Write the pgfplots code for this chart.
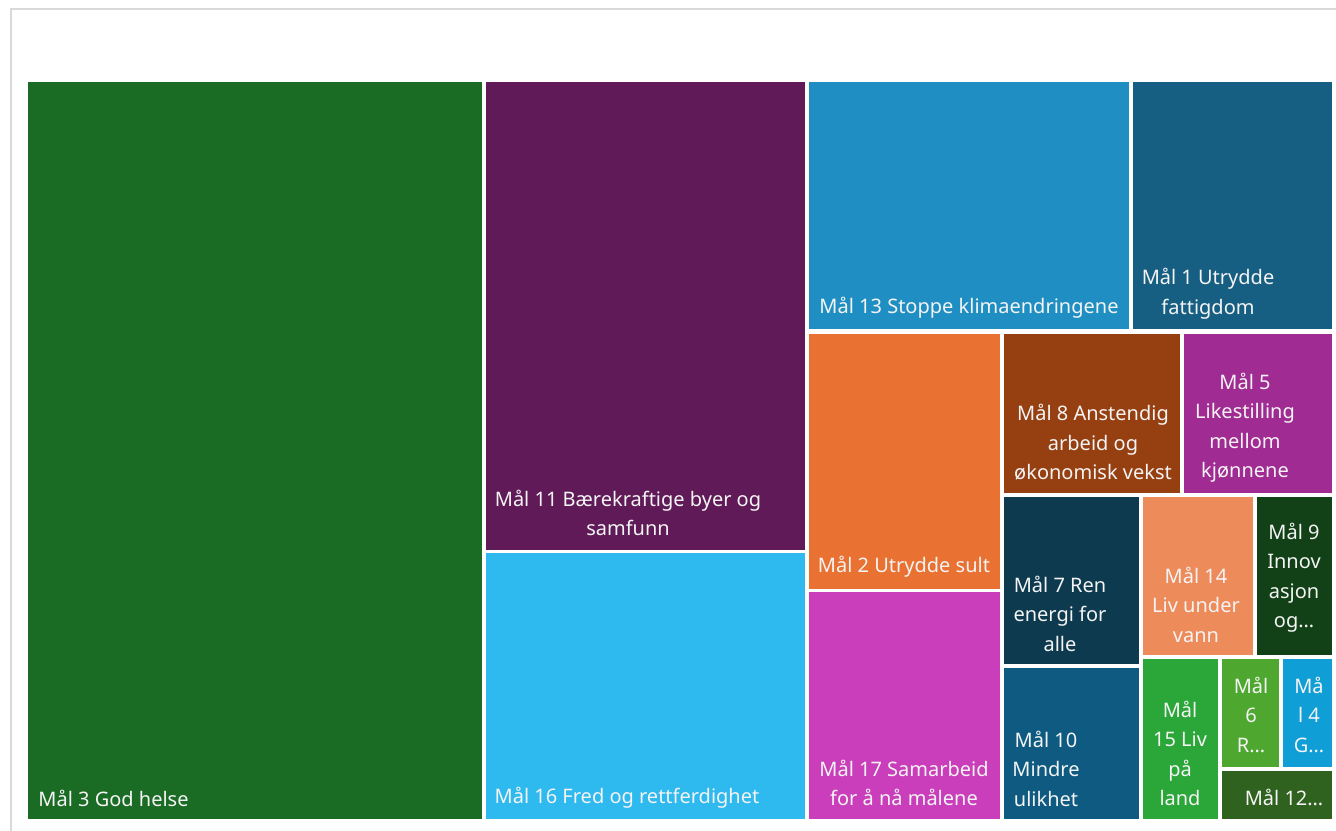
\documentclass[border=0pt]{standalone}
\usepackage{pgfplots}
\pgfplotsset{compat=1.18}
\usepackage{fontspec}
\setmainfont{Noto Sans}

% Office-theme colours
\definecolor{m3}{HTML}{1A6B24}
\definecolor{m11}{HTML}{5F1A57}
\definecolor{m16}{HTML}{2EB9EF}
\definecolor{m13}{HTML}{1F8FC3}
\definecolor{m1}{HTML}{165F82}
\definecolor{m2}{HTML}{E97132}
\definecolor{m17}{HTML}{CA3EBB}
\definecolor{m8}{HTML}{963F11}
\definecolor{m5}{HTML}{A02B93}
\definecolor{m7}{HTML}{0D3A4E}
\definecolor{m10}{HTML}{0E5A80}
\definecolor{m14}{HTML}{EE8B5B}
\definecolor{m9}{HTML}{134117}
\definecolor{m15}{HTML}{2BA639}
\definecolor{m6}{HTML}{4EA72E}
\definecolor{m4}{HTML}{0F9ED5}
\definecolor{m12}{HTML}{30621F}
\definecolor{lblcol}{HTML}{F4F4F4}
\definecolor{frame}{HTML}{D9D9D9}

\tikzset{lbl/.style={font=\fontsize{10}{14.75}\selectfont, text=lblcol, align=center, inner sep=0pt}}

\newcommand{\tile}[5]{%
  \addplot[fill=#1, draw=none] coordinates {(#2,#3)(#4,#3)(#4,#5)(#2,#5)} -- cycle;}

\begin{document}
\begin{tikzpicture}
\useasboundingbox (0,0) rectangle (668pt,415pt);
\begin{axis}[
    scale only axis, width=668pt, height=415pt,
    xmin=0, xmax=1336, ymin=0, ymax=830, y dir=reverse,
    hide axis, clip=false,
]
% chart frame
\addplot[draw=frame, line width=0.8pt] coordinates {(11,835)(11,9)(1345,9)};
% tiles: colour, x0, y0, x1, y1 (pixels)
\tile{m3}{28}{82}{482}{819}
\tile{m11}{486}{82}{805}{550}
\tile{m16}{486}{553}{805}{819}
\tile{m13}{809}{82}{1129}{329}
\tile{m1}{1133}{82}{1332}{329}
\tile{m2}{809}{334}{1000}{589}
\tile{m17}{809}{592}{1000}{819}
\tile{m8}{1004}{334}{1180}{493}
\tile{m5}{1184}{334}{1332}{493}
\tile{m7}{1004}{497}{1139}{664}
\tile{m10}{1004}{668}{1139}{819}
\tile{m14}{1143}{497}{1253}{655}
\tile{m9}{1257}{497}{1332}{655}
\tile{m15}{1143}{659}{1218}{819}
\tile{m6}{1222}{659}{1279}{767}
\tile{m4}{1283}{659}{1332}{767}
\tile{m12}{1222}{771}{1332}{819}

\node[lbl] at (axis cs:113.5,798) {Mål 3 God helse};
\node[lbl] at (axis cs:628,513) {Mål 11 Bærekraftige byer og\\samfunn};
\node[lbl] at (axis cs:627,798) {Mål 16 Fred og rettferdighet};
\node[lbl] at (axis cs:969,308) {Mål 13 Stoppe klimaendringene};
\node[lbl] at (axis cs:1208,293.5) {Mål 1 Utrydde\\fattigdom};
\node[lbl] at (axis cs:904,567) {Mål 2 Utrydde sult};
\node[lbl] at (axis cs:904,783) {Mål 17 Samarbeid\\for å nå målene};
\node[lbl] at (axis cs:1093,442.5) {Mål 8 Anstendig\\arbeid og\\økonomisk vekst};
\node[lbl] at (axis cs:1245,427.5) {Mål 5\\Likestilling\\mellom\\kjønnene};
\node[lbl] at (axis cs:1060,613.5) {Mål 7 Ren\\energi for\\alle};
\node[lbl] at (axis cs:1046,768.5) {Mål 10\\Mindre\\ulikhet};
\node[lbl] at (axis cs:1196,604.5) {Mål 14\\Liv under\\vann};
\node[lbl] at (axis cs:1294,577.5) {Mål 9\\Innov\\asjon\\og…};
\node[lbl] at (axis cs:1180,753.5) {Mål\\15 Liv\\på\\land};
\node[lbl] at (axis cs:1251,714.5) {Mål\\6\\R…};
\node[lbl] at (axis cs:1309,714.5) {Må\\l 4\\G…};
\node[lbl] at (axis cs:1284,797) {Mål 12…};
\end{axis}
\end{tikzpicture}
\end{document}
